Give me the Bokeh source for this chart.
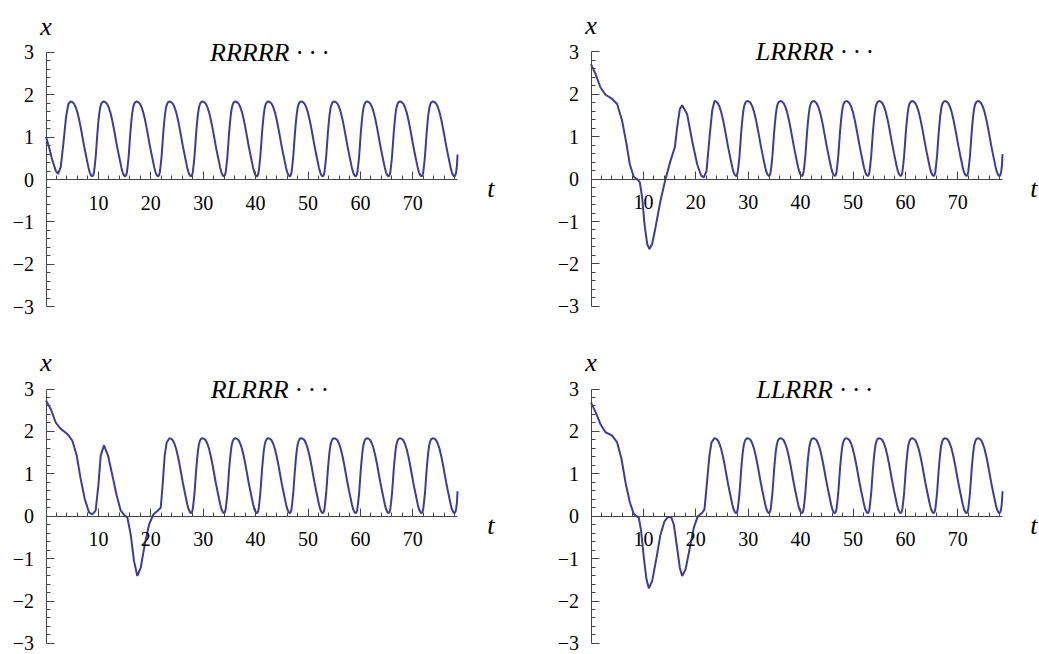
import numpy as np
from bokeh.plotting import figure
from bokeh.layouts import column, row
from bokeh.models import Range1d, FixedTicker, Label, CustomJSTickFormatter
from bokeh.embed import file_html
from bokeh.resources import INLINE

# ---------------- data ----------------
titles = ["RRRRR · · ·", "LRRRR · · ·", "RLRRR · · ·", "LLRRR · · ·"]
x_ticks = [10, 20, 30, 40, 50, 60, 70]
x_minor_ticks = [2, 4, 6, 8, 12, 14, 16, 18, 22, 24, 26, 28, 32, 34, 36, 38,
                 42, 44, 46, 48, 52, 54, 56, 58, 62, 64, 66, 68, 72, 74, 76, 78]
y_ticks = [-3, -2, -1, 0, 1, 2, 3]

t_end = 78.54          # right end of every curve
x_end = 0.59           # value at the right end
period = 6.283         # spacing of the steady peaks

# one steady cycle, measured from a peak (time after the peak, value)
cycle_dt = [0.00, 0.30, 0.64, 0.95, 1.27, 1.60, 1.91, 2.22, 2.54, 2.86, 3.18,
            3.40, 3.63, 3.88, 4.13, 4.30, 4.45, 4.60, 4.77, 4.93, 5.09, 5.25,
            5.41, 5.60, 5.79, 6.00]
cycle_x = [1.84, 1.83, 1.79, 1.71, 1.59, 1.42, 1.23, 1.02, 0.80, 0.60, 0.41,
           0.28, 0.17, 0.10, 0.07, 0.10, 0.17, 0.33, 0.53, 0.80, 1.08, 1.31,
           1.51, 1.68, 1.77, 1.82]

# transients before the steady regime
rrrrr_t = [0.00, 0.58, 1.22, 1.85, 2.30, 2.81, 3.31, 3.82, 4.27]
rrrrr_x = [1.01, 0.76, 0.45, 0.21, 0.13, 0.29, 0.84, 1.47, 1.78]
rrrrr_start = 4.71

lrrrr_t = [0.00, 0.86, 1.81, 2.77, 4.04, 4.99, 5.95, 6.77, 7.41, 8.17, 8.81,
           9.32, 9.76, 10.21, 10.72, 11.16, 11.67, 12.31, 13.26, 14.22, 15.17,
           16.00, 16.44, 16.95, 17.40, 18.35, 19.31, 20.26, 21.03, 21.53,
           22.04, 22.68, 23.12]
lrrrr_x = [2.71, 2.48, 2.16, 1.99, 1.89, 1.77, 1.37, 0.83, 0.35, 0.05, 0.00,
           -0.08, -0.43, -1.06, -1.53, -1.65, -1.53, -1.14, -0.51, 0.00, 0.43,
           0.75, 1.22, 1.65, 1.74, 1.53, 0.90, 0.35, 0.08, 0.04,
           0.19, 1.06, 1.61]
lrrrr_start = 23.56

rlrrr_t = [0.00, 0.90, 1.85, 2.81, 4.08, 5.03, 5.86, 6.62, 7.39, 8.21, 8.85,
           9.48, 9.99, 10.44, 11.07, 11.84, 12.67, 13.49, 14.26, 15.02, 15.53,
           16.16, 16.80, 17.43, 18.07, 18.84, 19.66, 20.49, 21.25, 21.89,
           22.21, 22.65, 23.03]
rlrrr_x = [2.73, 2.53, 2.21, 2.06, 1.94, 1.78, 1.43, 0.88, 0.41, 0.09, 0.04,
           0.14, 0.72, 1.43, 1.67, 1.43, 0.96, 0.49, 0.13, 0.02, -0.03,
           -0.43, -1.06, -1.41, -1.22, -0.67, -0.20, 0.04, 0.12, 0.20,
           0.66, 1.43, 1.74]
rlrrr_start = 23.56

llrrr_t = [0.00, 0.86, 1.81, 2.77, 4.04, 4.99, 5.82, 6.58, 7.41, 8.17, 8.60,
           9.13, 9.57, 10.08, 10.59, 11.04, 11.67, 12.50, 13.26, 14.03, 14.66,
           15.30, 15.81, 16.44, 16.95, 17.40, 18.03, 18.86, 19.62, 20.39,
           21.22, 21.66, 22.04, 22.60, 23.00]
llrrr_x = [2.68, 2.46, 2.17, 1.98, 1.90, 1.74, 1.35, 0.80, 0.33, 0.05, 0.01,
           -0.04, -0.35, -0.98, -1.49, -1.70, -1.53, -0.98, -0.43, -0.12, -0.02,
           -0.02, -0.20, -0.75, -1.22, -1.41, -1.26, -0.75, -0.27, 0.00,
           0.08, 0.16, 0.67, 1.43, 1.74]
llrrr_start = 23.56

# ---------------- styling / layout ----------------
LINE_COLOR = "#3d3d99"
AXIS_COLOR = "#444444"
FONT = "'Liberation Serif', 'Times New Roman', serif"
SX = 5.24    # pixels per unit of t
SY = 42.4    # pixels per unit of x


def series(tr_t, tr_x, start):
    t = list(tr_t)
    x = list(tr_x)
    k = 0
    while start + k * period < t_end:
        base = start + k * period
        for dt, xv in zip(cycle_dt, cycle_x):
            if base + dt < t_end - 0.05:
                t.append(base + dt)
                x.append(xv)
        k += 1
    t.append(t_end)
    x.append(x_end)
    return t, x


y_minor = [round(v, 2) for v in np.arange(-3, 3.001, 0.2) if abs(v - round(v)) > 1e-6]

tick_fmt = CustomJSTickFormatter(code="""
    return (tick < 0 ? '\\u2212' : '') + Math.abs(tick).toFixed(0);
""")


def make_panel(tr_t, tr_x, start, title, width, height, x0_px, y0_px, t_label_x):
    # x0_px, y0_px: pixel position (inside this figure) of the origin
    t_lo = -x0_px / SX
    t_hi = t_lo + width / SX
    y_hi = y0_px / SY
    y_lo = y_hi - height / SY
    p = figure(width=width, height=height, output_backend="svg", toolbar_location=None,
               x_range=Range1d(t_lo, t_hi), y_range=Range1d(y_lo, y_hi),
               min_border_left=0, min_border_right=0,
               min_border_top=0, min_border_bottom=0)
    p.outline_line_color = None
    p.xgrid.visible = False
    p.ygrid.visible = False
    p.background_fill_color = "white"
    p.border_fill_color = "white"

    xa = p.xaxis[0]
    xa.fixed_location = 0
    xa.bounds = (0, t_end)
    xa.ticker = FixedTicker(ticks=x_ticks, minor_ticks=x_minor_ticks)
    xa.major_tick_in = 8
    xa.major_tick_out = 0
    xa.minor_tick_in = 4
    xa.minor_tick_out = 0
    xa.major_label_standoff = 16
    xa.axis_line_color = AXIS_COLOR
    xa.major_tick_line_color = AXIS_COLOR
    xa.minor_tick_line_color = AXIS_COLOR
    xa.major_label_text_font = FONT
    xa.major_label_text_font_size = "20px"
    xa.major_label_text_color = "black"
    xa.formatter = tick_fmt

    ya = p.yaxis[0]
    ya.fixed_location = 0
    ya.bounds = (-3, 3)
    ya.ticker = FixedTicker(ticks=y_ticks, minor_ticks=y_minor)
    ya.major_tick_in = 8
    ya.major_tick_out = 0
    ya.minor_tick_in = 4
    ya.minor_tick_out = 0
    ya.major_label_standoff = 12
    ya.axis_line_color = AXIS_COLOR
    ya.major_tick_line_color = AXIS_COLOR
    ya.minor_tick_line_color = AXIS_COLOR
    ya.major_label_text_font = FONT
    ya.major_label_text_font_size = "20px"
    ya.major_label_text_color = "black"
    ya.formatter = tick_fmt

    t, x = series(tr_t, tr_x, start)
    p.line(t, x, line_color=LINE_COLOR, line_width=2)

    p.add_layout(Label(x=0, y=3.62, text="x", text_align="center",
                       text_baseline="alphabetic", text_font=FONT,
                       text_font_style="italic", text_font_size="26px",
                       text_color="black"))
    p.add_layout(Label(x=t_label_x, y=-0.21, text="t", text_align="center",
                       text_baseline="alphabetic", text_font=FONT,
                       text_font_style="italic", text_font_size="26px",
                       text_color="black"))
    p.add_layout(Label(x=42.6, y=3.0, text=title, text_align="center",
                       text_baseline="alphabetic", text_font=FONT,
                       text_font_style="italic", text_font_size="26px",
                       text_color="black"))
    return p


p1 = make_panel(rrrrr_t, rrrrr_x, rrrrr_start, titles[0], 552, 344, 45.5, 179.0, 84.9)
p2 = make_panel(lrrrr_t, lrrrr_x, lrrrr_start, titles[1], 486, 344, 38.5, 178.6, 84.5)
p3 = make_panel(rlrrr_t, rlrrr_x, rlrrr_start, titles[2], 552, 309, 45.5, 171.7, 84.9)
p4 = make_panel(llrrr_t, llrrr_x, llrrr_start, titles[3], 486, 309, 38.5, 171.7, 84.5)

layout = column(row(p1, p2), row(p3, p4))
open("out.html", "w").write(file_html(layout, INLINE))
